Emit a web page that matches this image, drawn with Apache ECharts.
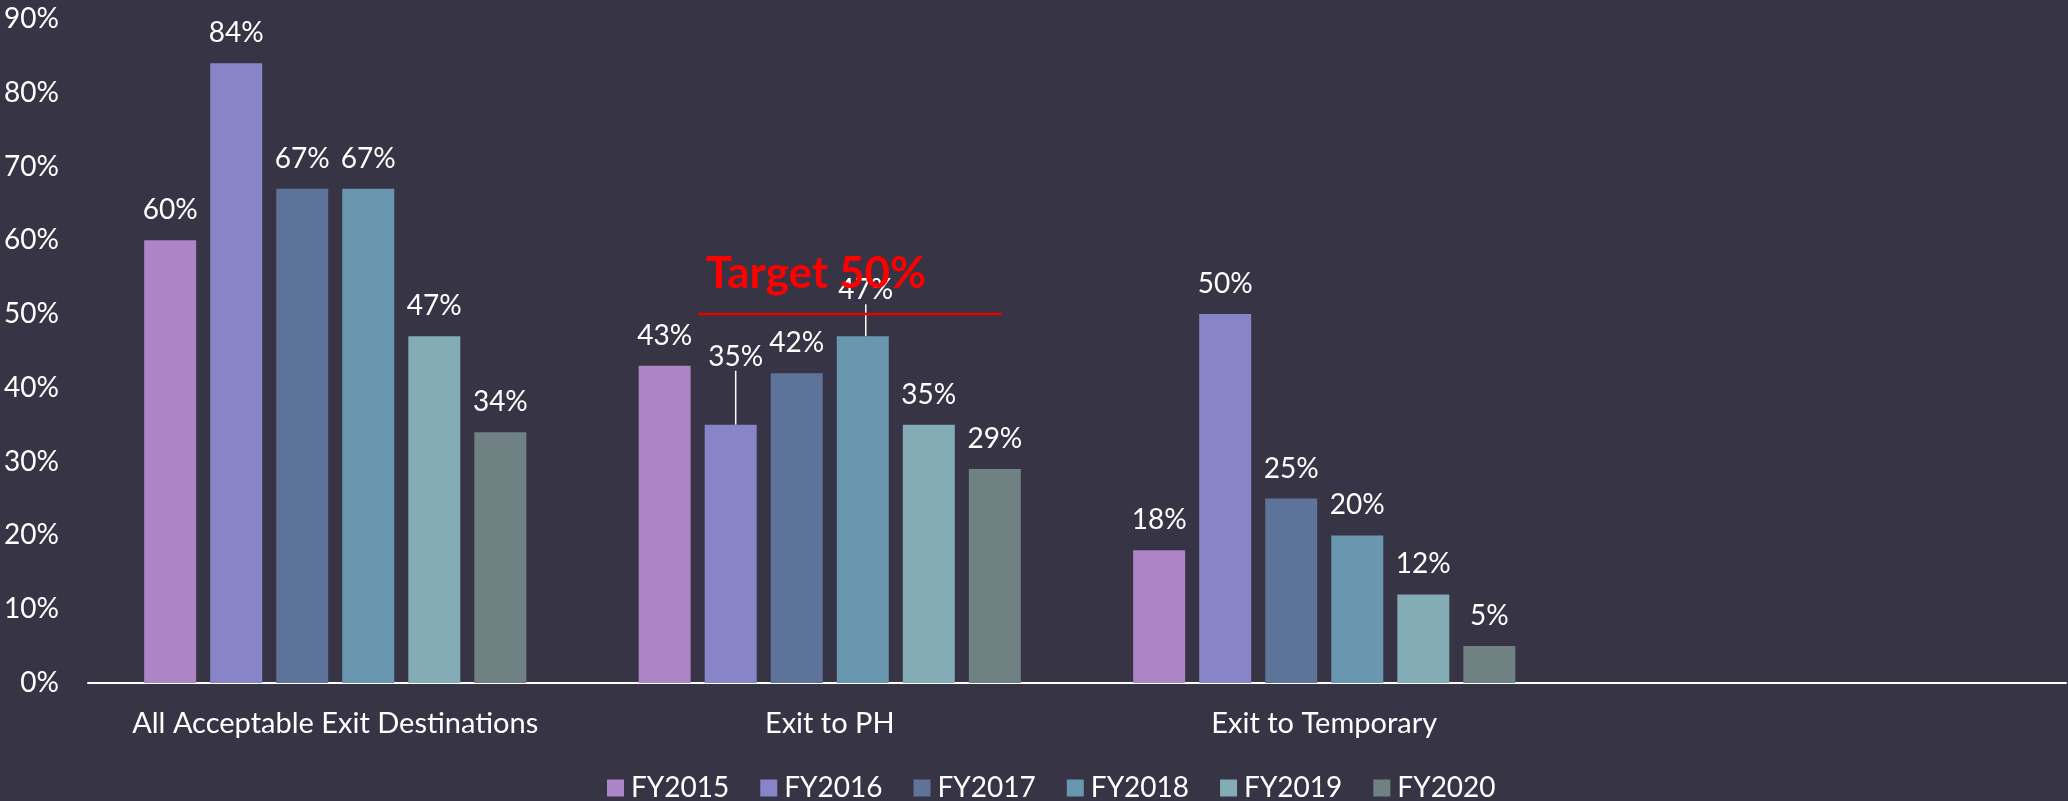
<!DOCTYPE html>
<html>
<head>
<meta charset="utf-8">
<script src="https://cdn.jsdelivr.net/npm/echarts@6/dist/echarts.min.js"></script>
<style>
html,body{margin:0;padding:0;background:#373445;}
#chart{width:2068px;height:801px;}
</style>
</head>
<body>
<div id="chart"></div>
<script>
const categories = ['All Acceptable Exit Destinations', 'Exit to PH', 'Exit to Temporary', ''];
const seriesNames = ['FY2015', 'FY2016', 'FY2017', 'FY2018', 'FY2019', 'FY2020'];
const fy2015 = [60, 43, 18];
const fy2016 = [84, 35, 50];
const fy2017 = [67, 42, 25];
const fy2018 = [67, 47, 20];
const fy2019 = [47, 35, 12];
const fy2020 = [34, 29, 5];
const yTicks = [0, 10, 20, 30, 40, 50, 60, 70, 80, 90];
const targetValue = 50;
const targetLabel = 'Target 50%';
// horizontal extent of the target line, in category-index units
const targetSpan = [1.235, 1.848];

const colors = ['#AD84C6', '#8784C7', '#5D739A', '#6997AF', '#84ACB6', '#6F8183'];
const values = [fy2015, fy2016, fy2017, fy2018, fy2019, fy2020];
const FONT = 'Lato, "Noto Sans", sans-serif';

// label nudges (layout only): series index -> {dataIndex, dx, dy}
const labelNudges = {1: {dataIndex: 1, dx: 5, dy: -38}, 3: {dataIndex: 1, dx: 3, dy: -16}};

const barSeries = seriesNames.map((name, i) => {
  const n = labelNudges[i];
  const data = values[i].map((v, j) => {
    if (n && n.dataIndex === j) {
      return {value: v, labelLine: {show: true, lineStyle: {color: '#ffffff', width: 1.5}}};
    }
    return v;
  });
  const s = {
    name: name,
    type: 'bar',
    data: data,
    barWidth: 52,
    barGap: '27%',
    itemStyle: {color: colors[i]},
    labelLine: {show: false},
    label: {
      show: true,
      position: 'top',
      distance: 16,
      color: '#ffffff',
      fontFamily: FONT,
      fontSize: 28,
      lineHeight: 28,
      formatter: '{c}%'
    }
  };
  if (n) {
    s.labelLayout = function (p) {
      if (p.dataIndex === n.dataIndex) return {dx: n.dx, dy: n.dy};
      return {};
    };
  }
  return s;
});

const targetSeries = {
  name: 'Target',
  type: 'line',
  xAxisIndex: 1,
  z: 10,
  symbol: 'circle',
  symbolSize: 1,
  itemStyle: {color: '#E80000'},
  lineStyle: {color: '#E80000', width: 2.5},
  silent: true,
  data: [
    {
      value: [targetSpan[0], targetValue],
      label: {
        show: true,
        position: 'top',
        align: 'left',
        distance: 18,
        offset: [7, 0],
        formatter: targetLabel,
        color: '#FF0000',
        fontFamily: FONT,
        fontWeight: 'bold',
        fontSize: 44,
        lineHeight: 44
      }
    },
    [targetSpan[1], targetValue]
  ]
};

const chart = echarts.init(document.getElementById('chart'));
chart.setOption({
  backgroundColor: '#373445',
  animation: false,
  grid: {left: 88, right: 2, top: 19, bottom: 118, containLabel: false},
  legend: {
    data: seriesNames,
    left: 602,
    top: 769,
    itemWidth: 17,
    itemHeight: 17,
    itemGap: 31,
    icon: 'rect',
    textStyle: {color: '#ffffff', fontFamily: FONT, fontSize: 28, padding: [0, 0, 0, 2]}
  },
  xAxis: [
    {
      type: 'category',
      data: categories,
      axisLine: {show: true, lineStyle: {color: '#ffffff', width: 2}},
      axisTick: {show: false},
      axisLabel: {interval: 0, color: '#ffffff', fontFamily: FONT, fontSize: 29, margin: 26}
    },
    {
      type: 'value',
      min: 0,
      max: categories.length,
      show: false
    }
  ],
  yAxis: {
    type: 'value',
    min: yTicks[0],
    max: yTicks[yTicks.length - 1],
    interval: yTicks[1] - yTicks[0],
    axisLine: {show: false},
    axisTick: {show: false},
    splitLine: {show: false},
    axisLabel: {color: '#ffffff', fontFamily: FONT, fontSize: 28, margin: 29, formatter: '{value}%'}
  },
  series: barSeries.concat([targetSeries])
});
</script>
</body>
</html>
